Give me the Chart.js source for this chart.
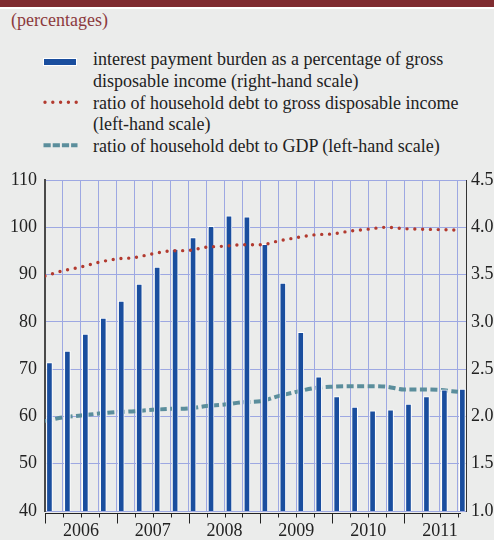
<!DOCTYPE html>
<html>
<head>
<meta charset="utf-8">
<script src="https://cdn.jsdelivr.net/npm/chart.js@4"></script>
<style>
  body { margin: 0; background: #ebeceb; width: 494px; height: 540px; overflow: hidden; position: relative;
         font-family: 'Liberation Serif', 'Times New Roman', serif; color: #222; }
  #band { position: absolute; left: 0; top: 0; width: 494px; height: 7px; background: #7f2c30; border-bottom: 2px solid #fff; }
  #title { position: absolute; left: 11px; top: 10px; font-size: 18px; line-height: 21.6px; color: #8c3a3d; }
  .lg { position: absolute; left: 93px; font-size: 18px; line-height: 21.6px; white-space: nowrap; color: #222; }
  #keys { position: absolute; left: 0; top: 0; }
  canvas { position: absolute; left: 0; top: 0; }
</style>
</head>
<body>
<div id="band"></div>
<div id="title">(percentages)</div>
<div class="lg" style="top:49px">interest payment burden as a percentage of gross<br>disposable income (right-hand scale)</div>
<div class="lg" style="top:92.5px">ratio of household debt to gross disposable income<br>(left-hand scale)</div>
<div class="lg" style="top:135.5px">ratio of household debt to GDP (left-hand scale)</div>
<svg id="keys" width="100" height="160">
  <rect x="43.5" y="58.5" width="33" height="7" fill="#1a4e9e" stroke="#fff" stroke-width="1"/>
  <line x1="45" y1="102.3" x2="77" y2="102.3" stroke="#b23a2f" stroke-width="3.4" stroke-linecap="round" stroke-dasharray="0 7.8"/>
  <line x1="43.5" y1="145.3" x2="77.5" y2="145.3" stroke="#5b8e9c" stroke-width="4" stroke-dasharray="7.2 2"/>
</svg>
<canvas id="chart" width="494" height="540"></canvas>
<script>
var years = ['2006', '2007', '2008', '2009', '2010', '2011'];
var quarters = [
  '2006 Q1', '2006 Q2', '2006 Q3', '2006 Q4',
  '2007 Q1', '2007 Q2', '2007 Q3', '2007 Q4',
  '2008 Q1', '2008 Q2', '2008 Q3', '2008 Q4',
  '2009 Q1', '2009 Q2', '2009 Q3', '2009 Q4',
  '2010 Q1', '2010 Q2', '2010 Q3', '2010 Q4',
  '2011 Q1', '2011 Q2', '2011 Q3', '2011 Q4'
];
// right-hand scale
var interestBurden = [2.57, 2.69, 2.87, 3.04, 3.22, 3.40, 3.58, 3.77, 3.89, 4.01, 4.12, 4.11,
                      3.82, 3.41, 2.89, 2.42, 2.21, 2.10, 2.06, 2.07, 2.13, 2.21, 2.28, 2.29];
// left-hand scale
var debtToIncome = [89.7, 90.8, 91.6, 92.6, 93.3, 93.6, 94.4, 95.0, 95.1, 95.8, 96.0, 96.3,
                    96.3, 97.1, 97.8, 98.4, 98.6, 99.2, 99.6, 100.0, 99.7, 99.6, 99.5, 99.4];
var debtToGdp = [59.0, 59.8, 60.2, 60.6, 60.9, 61.1, 61.4, 61.6, 61.7, 62.2, 62.5, 63.0,
                 63.2, 64.3, 65.2, 66.0, 66.3, 66.4, 66.4, 66.3, 65.7, 65.7, 65.6, 65.2];
var leftTicks = [40, 50, 60, 70, 80, 90, 100, 110];
var rightTicks = [1.0, 1.5, 2.0, 2.5, 3.0, 3.5, 4.0, 4.5];

var gridColor = '#9da8e2';

function points(arr) {
    return arr.map(function(v, i) { return { x: i, y: v }; });
}

// year brackets under the x axis
var axisTicks = {
    id: 'axisTicks',
    afterDraw: function(chart) {
        var ctx = chart.ctx, sx = chart.scales.x, area = chart.chartArea;
        var y0 = Math.round(area.bottom) + 2.5;
        ctx.save();
        ctx.strokeStyle = '#222';
        ctx.lineWidth = 1;
        ctx.beginPath();
        ctx.moveTo(area.left, y0);
        ctx.lineTo(sx.getPixelForValue(quarters.length - 1) + 3, y0);
        quarters.forEach(function(q, i) {
            var px = Math.round(sx.getPixelForValue(i)) + 0.5;
            ctx.moveTo(px, y0 - 0.5);
            ctx.lineTo(px, y0 + (i % 4 === 0 ? 10 : 4));
        });
        ctx.stroke();
        ctx.restore();
    }
};

var ctx = document.getElementById('chart').getContext('2d');
Chart.defaults.font.family = "'Liberation Serif', 'Times New Roman', serif";
Chart.defaults.font.size = 18;
Chart.defaults.color = '#222';

var chart = new Chart(ctx, {
    data: {
        datasets: [{
            type: 'line',
            label: 'ratio of household debt to gross disposable income (left-hand scale)',
            data: points(debtToIncome),
            xAxisID: 'x',
            yAxisID: 'y',
            borderColor: '#b23a2f',
            borderWidth: 3.4,
            borderDash: [0, 7.8],
            borderCapStyle: 'round',
            pointRadius: 0,
            cubicInterpolationMode: 'monotone',
            order: 0
        }, {
            type: 'bar',
            label: 'interest payment burden as a percentage of gross disposable income (right-hand scale)',
            data: points(interestBurden),
            xAxisID: 'xb',
            yAxisID: 'y1',
            backgroundColor: '#1a4e9e',
            borderColor: '#ffffff',
            borderWidth: 1,
            barThickness: 6,
            order: 1
        }, {
            type: 'line',
            label: 'ratio of household debt to GDP (left-hand scale)',
            data: points(debtToGdp),
            xAxisID: 'x',
            yAxisID: 'y',
            borderColor: '#5b8e9c',
            borderWidth: 4,
            borderDash: [7, 3.5],
            pointRadius: 0,
            cubicInterpolationMode: 'monotone',
            order: 2
        }]
    },
    options: {
        responsive: false,
        animation: false,
        layout: { padding: { top: 180, left: 0, right: 0, bottom: 0 } },
        plugins: {
            legend: { display: false },
            tooltip: { enabled: false }
        },
        scales: {
            x: {
                type: 'linear',
                position: 'bottom',
                offset: false,
                min: 0,
                max: 23.45,
                afterBuildTicks: function(s) {
                    s.ticks = quarters.map(function(q, i) { return { value: i }; });
                },
                afterFit: function(s) { s.height = 29; },
                grid: { color: gridColor, lineWidth: 1, drawTicks: false, offset: false },
                border: { display: false },
                ticks: {
                    autoSkip: false,
                    maxRotation: 0,
                    padding: 9,
                    callback: function(v) {
                        return v % 4 === 2 ? years[(v - 2) / 4] : '';
                    }
                }
            },
            // same span as x, nudged so each bar sits just right of its grid line
            xb: {
                type: 'linear',
                position: 'top',
                offset: false,
                min: -0.08,
                max: 23.37,
                afterFit: function(s) { s.height = 0; },
                grid: { display: false, offset: false },
                border: { display: false },
                ticks: { display: false }
            },
            y: {
                position: 'left',
                min: 40,
                max: 110,
                afterBuildTicks: function(s) {
                    s.ticks = leftTicks.map(function(v) { return { value: v }; });
                },
                afterFit: function(s) { s.width = 45; },
                grid: { color: gridColor, lineWidth: 1, drawTicks: false },
                border: { color: '#4a4a4a', width: 2 },
                ticks: { padding: 8 }
            },
            y1: {
                position: 'right',
                min: 1.0,
                max: 4.5,
                afterBuildTicks: function(s) {
                    s.ticks = rightTicks.map(function(v) { return { value: v }; });
                },
                afterFit: function(s) { s.width = 28; },
                grid: { drawOnChartArea: false, drawTicks: false },
                border: { color: '#333', width: 1 },
                ticks: {
                    padding: 5,
                    callback: function(v) { return v.toFixed(1); }
                }
            }
        }
    },
    plugins: [axisTicks]
});
</script>
</body>
</html>
